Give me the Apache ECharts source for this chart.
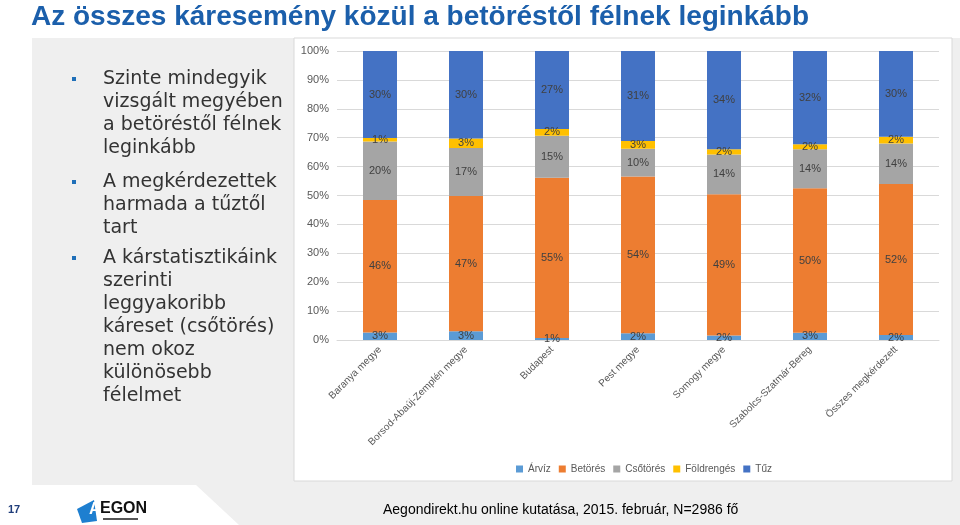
<!DOCTYPE html>
<html>
<head>
<meta charset="utf-8">
<script src="https://cdn.jsdelivr.net/npm/echarts@6/dist/echarts.min.js"></script>
<style>
html,body{margin:0;padding:0;background:#fff;}
#c{width:960px;height:525px;}
</style>
</head>
<body>
<div id="c"></div>
<script>
var categories = ['Baranya megye', 'Borsod-Abaúj-Zemplén megye', 'Budapest', 'Pest megye', 'Somogy megye', 'Szabolcs-Szatmár-Bereg', 'Összes megkérdezett'];
var seriesNames = ['Árvíz', 'Betörés', 'Csőtörés', 'Földrengés', 'Tűz'];
var arviz      = [2.6, 3.0, 0.7, 2.3, 1.6, 2.5, 1.7];
var betores    = [45.8, 46.8, 55.4, 54.3, 48.8, 50.0, 52.3];
var csotores   = [20.3, 16.6, 14.6, 9.6, 13.8, 13.5, 14.0];
var foldrenges = [1.2, 3.3, 2.3, 2.7, 1.8, 1.7, 2.3];
var tuz        = [30.1, 30.3, 27.0, 31.1, 34.0, 32.3, 29.7];
var yTicks = ['0%', '10%', '20%', '30%', '40%', '50%', '60%', '70%', '80%', '90%', '100%'];

var titleText = 'Az összes káresemény közül a betöréstől félnek leginkább';
var bullets = [
  'Szinte mindegyik\nvizsgált megyében\na betöréstől félnek\nleginkább',
  'A megkérdezettek\nharmada a tűztől\ntart',
  'A kárstatisztikáink\nszerinti\nleggyakoribb\nkáreset (csőtörés)\nnem okoz\nkülönösebb\nfélelmet'
];
var sourceText = 'Aegondirekt.hu online kutatása, 2015. február, N=2986 fő';
var pageNo = '17';

var colors = ['#5b9bd5', '#ed7d31', '#a5a5a5', '#ffc000', '#4472c4'];
var allData = [arviz, betores, csotores, foldrenges, tuz];

var chart = echarts.init(document.getElementById('c'));

var series = seriesNames.map(function (n, i) {
  return {
    name: n,
    type: 'bar',
    stack: 'total',
    barWidth: 34,
    data: allData[i],
    itemStyle: { color: colors[i] },
    label: {
      show: true,
      position: 'inside',
      formatter: function (p) { return Math.round(p.value) + '%'; },
      color: '#404040',
      fontSize: 11,
      fontFamily: 'Liberation Sans'
    }
  };
});

var bulletY = [79, 182, 258];
var graphics = [
  { type: 'rect', z: -10, shape: { x: 32, y: 38, width: 928, height: 447 }, style: { fill: '#efefef' } },
  { type: 'polygon', z: -10, shape: { points: [[196, 485], [960, 485], [960, 525], [239, 525]] }, style: { fill: '#efefef' } },
  { type: 'rect', z: -9, shape: { x: 294, y: 38, width: 658, height: 443 }, style: { fill: '#ffffff', stroke: '#d9d9d9', lineWidth: 1 } },
  { type: 'text', z: 10, style: { x: 31, y: 17, text: titleText, font: 'bold 28px "Liberation Sans"', fill: '#1b5fab', textVerticalAlign: 'middle' } },
  { type: 'text', z: 10, style: { x: 8, y: 510, text: pageNo, font: 'bold 11px "Liberation Sans"', fill: '#1f3d7a', textVerticalAlign: 'middle' } },
  { type: 'text', z: 10, style: { x: 383, y: 510, text: sourceText, font: '14px "Liberation Sans"', fill: '#000000', textVerticalAlign: 'middle' } },
  { type: 'polygon', z: 10, shape: { points: [[77, 509], [94, 500], [97, 521], [82, 523]] }, style: { fill: '#1e7fd0' } },
  { type: 'text', z: 11, style: { x: 89, y: 510, text: 'A', font: 'bold 16px "Liberation Sans"', fill: '#ffffff', textVerticalAlign: 'middle' } },
  { type: 'text', z: 11, style: { x: 100, y: 509, text: 'EGON', font: 'bold 16px "Liberation Sans"', fill: '#111111', textVerticalAlign: 'middle' } },
  { type: 'rect', z: 10, shape: { x: 103, y: 518, width: 35, height: 2 }, style: { fill: '#555555' } }
];
bullets.forEach(function (b, i) {
  graphics.push({ type: 'rect', z: 10, shape: { x: 72, y: bulletY[i] - 2, width: 4, height: 4 }, style: { fill: '#1f6fb8' } });
  graphics.push({ type: 'text', z: 10, style: { x: 103, y: bulletY[i] - 11.5, text: b, font: '19px "DejaVu Sans"', lineHeight: 23, fill: '#333333', textVerticalAlign: 'top' } });
});

chart.setOption({
  animation: false,
  color: colors,
  graphic: { elements: graphics },
  grid: { left: 337, right: 21, top: 51, bottom: 185, containLabel: false },
  legend: {
    data: seriesNames,
    top: 459,
    left: 511,
    itemWidth: 7,
    itemHeight: 7,
    itemGap: 8,
    icon: 'rect',
    textStyle: { color: '#595959', fontSize: 10, fontFamily: 'Liberation Sans' }
  },
  xAxis: {
    type: 'category',
    data: categories,
    axisLine: { show: true, lineStyle: { color: '#d9d9d9' } },
    axisTick: { show: false },
    axisLabel: { rotate: 45, color: '#595959', fontSize: 10, fontFamily: 'Liberation Sans', margin: 8, interval: 0 }
  },
  yAxis: {
    type: 'value',
    min: 0,
    max: 100,
    interval: 10,
    axisLine: { show: false },
    axisTick: { show: false },
    splitLine: { lineStyle: { color: '#d9d9d9' } },
    axisLabel: {
      color: '#595959', fontSize: 11, fontFamily: 'Liberation Sans', margin: 8,
      formatter: function (v) { return yTicks[Math.round(v / 10)]; }
    }
  },
  series: series
});
</script>
</body>
</html>
